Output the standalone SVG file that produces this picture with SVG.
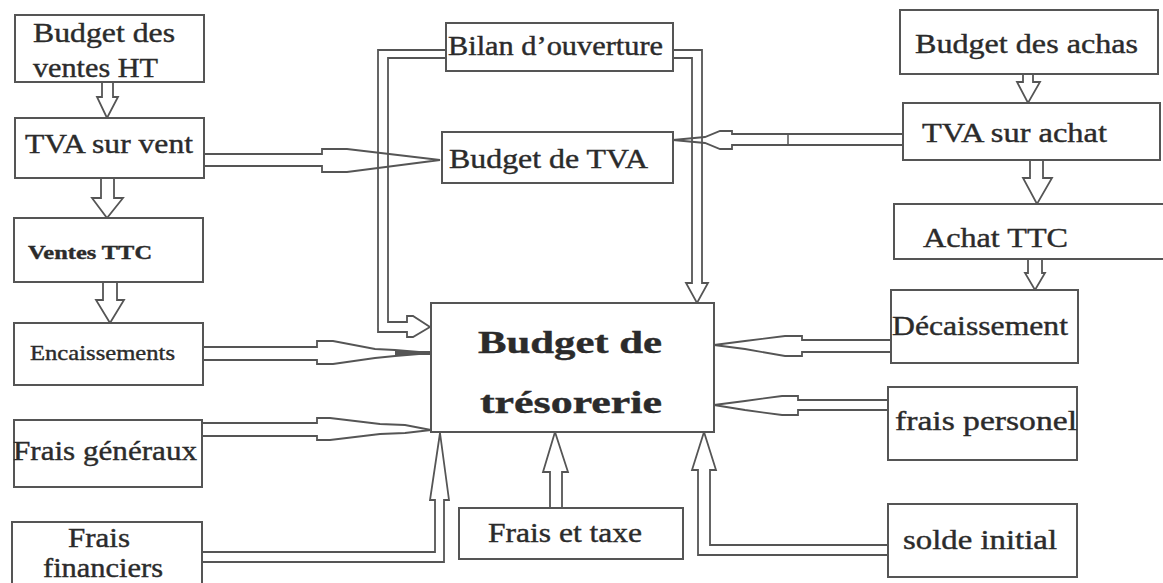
<svg xmlns="http://www.w3.org/2000/svg" width="1163" height="583" viewBox="0 0 1163 583">
<style>
.box{fill:#fff;stroke:#555;stroke-width:2}
text{font-family:'Liberation Serif',serif;font-size:27px;fill:#2b2b2b;stroke:#2b2b2b;stroke-width:0.4}
.b{font-weight:bold}
.c{fill:none;stroke:#555;stroke-width:1.8;stroke-linejoin:miter}
.a{fill:#fff;stroke:#555;stroke-width:1.8}
</style>
<rect width="1163" height="583" fill="#fff"/>
<g id="connectors">
  <polygon class="a" points="102,82 113,82 113,97 118,97 107,118 97,97 102,97"/>
  <polygon class="a" points="101,178 114,178 114,198 123,198 107,218 92,198 101,198"/>
  <polygon class="a" points="103,282 117,282 117,300 124,300 110,323 96,300 103,300"/>
  <polygon class="a" points="1023,74 1033,74 1033,82 1040,82 1028,103 1017,82 1023,82"/>
  <polygon class="a" points="1030,160 1043,160 1043,178 1052,178 1037,204 1023,178 1030,178"/>
  <polygon class="a" points="1028,259 1042,259 1042,273 1045,273 1035,290 1025,273 1028,273"/>
  <path class="c" d="M204,154 L322,154 L322,149 L347,149 L440,160 L347,172 L322,172 L322,166 L204,166"/>
  <path class="c" d="M903,134 L732,134 L732,131 L720,131 L705,137 L673,140 L705,143 L720,149 L732,149 L732,145 L903,145"/>
  <line x1="788" y1="134" x2="788" y2="145" stroke="#555" stroke-width="1.5"/>
  <path class="c" d="M203,347 L317,347 L317,341 L333,341 L375,349 L395,350 L431,353 L395,356 L375,358 L333,364 L317,364 L317,360 L203,360"/>
  <line x1="395" y1="353" x2="431" y2="353" stroke="#555" stroke-width="4"/>
  <path class="c" d="M202,423 L317,423 L317,418 L330,418 L380,424 L405,425 L431,430 L405,433 L380,434 L330,440 L317,440 L317,436 L202,436"/>
  <path class="c" d="M446,50 L378,50 L378,332 L407,332 L407,337 L413,337 L430,327 L413,316 L407,316 L407,322 L388,322 L388,58 L446,58"/>
  <path class="c" d="M673,50 L702,50 L702,283 L708,283 L697,303 L686,283 L692,283 L692,58 L673,58"/>
  <path class="c" d="M891,340 L802,340 L802,336 L785,336 L745,341 L714,345 L745,349 L785,356 L802,356 L802,352 L891,352"/>
  <path class="c" d="M888,400 L798,400 L798,396 L782,396 L745,401 L714,405 L745,410 L782,415 L798,415 L798,410 L888,410"/>
  <path class="c" d="M202,552 L435,552 L435,500 L430,500 L440,433 L449,500 L444,500 L444,562 L202,562"/>
  <polygon class="a" points="550,508 550,472 543,472 555,432 568,472 562,472 562,508"/>
  <path class="c" d="M888,545 L710,545 L710,470 L716,470 L704,432 L692,470 L698,470 L698,555 L888,555"/>
</g>
<g id="n-budget-ventes-ht"><rect class="box" x="15" y="15" width="189" height="67"/><text x="33" y="42" textLength="142" lengthAdjust="spacingAndGlyphs">Budget des</text><text x="33" y="77" textLength="125" lengthAdjust="spacingAndGlyphs">ventes HT</text></g>
<g id="n-tva-vent"><rect class="box" x="15" y="118" width="189" height="60"/><text x="25" y="153" textLength="168" lengthAdjust="spacingAndGlyphs">TVA sur vent</text></g>
<g id="n-ventes-ttc"><rect class="box" x="14" y="218" width="189" height="64"/><text class="b" style="font-size:19px" x="28" y="259" textLength="124" lengthAdjust="spacingAndGlyphs">Ventes TTC</text></g>
<g id="n-encaissements"><rect class="box" x="14" y="323" width="189" height="62"/><text style="font-size:22px" x="30" y="360" textLength="145" lengthAdjust="spacingAndGlyphs">Encaissements</text></g>
<g id="n-frais-generaux"><rect class="box" x="14" y="420" width="188" height="67"/><text x="13" y="460" textLength="184" lengthAdjust="spacingAndGlyphs">Frais généraux</text></g>
<g id="n-frais-financiers"><rect class="box" x="12" y="522" width="190" height="70"/><text x="68" y="547" textLength="62" lengthAdjust="spacingAndGlyphs">Frais</text><text x="43" y="577" textLength="120" lengthAdjust="spacingAndGlyphs">financiers</text></g>
<g id="n-bilan"><rect class="box" x="446" y="23" width="227" height="48"/><text x="448" y="55" textLength="215" lengthAdjust="spacingAndGlyphs">Bilan d’ouverture</text></g>
<g id="n-budget-tva"><rect class="box" x="442" y="132" width="231" height="51"/><text x="449" y="168" textLength="199" lengthAdjust="spacingAndGlyphs">Budget de TVA</text></g>
<g id="n-budget-achas"><rect class="box" x="900" y="10" width="258" height="64"/><text x="915" y="53" textLength="223" lengthAdjust="spacingAndGlyphs">Budget des achas</text></g>
<g id="n-tva-achat"><rect class="box" x="903" y="103" width="257" height="57"/><text x="922" y="142" textLength="185" lengthAdjust="spacingAndGlyphs">TVA sur achat</text></g>
<g id="n-achat-ttc"><rect class="box" x="894" y="204" width="270" height="55"/><text x="923" y="247" textLength="145" lengthAdjust="spacingAndGlyphs">Achat TTC</text></g>
<g id="n-decaissement"><rect class="box" x="891" y="290" width="187" height="73"/><text x="892" y="335" textLength="176" lengthAdjust="spacingAndGlyphs">Décaissement</text></g>
<g id="n-frais-personel"><rect class="box" x="888" y="387" width="189" height="73"/><text x="895" y="430" textLength="182" lengthAdjust="spacingAndGlyphs">frais personel</text></g>
<g id="n-solde-initial"><rect class="box" x="888" y="504" width="189" height="73"/><text x="903" y="549" textLength="154" lengthAdjust="spacingAndGlyphs">solde initial</text></g>
<g id="n-budget-tresorerie"><rect class="box" x="431" y="303" width="283" height="129"/><text class="b" style="font-size:32px" x="478" y="353" textLength="184" lengthAdjust="spacingAndGlyphs">Budget de</text><text class="b" style="font-size:32px" x="480" y="413" textLength="182" lengthAdjust="spacingAndGlyphs">trésorerie</text></g>
<g id="n-frais-taxe"><rect class="box" x="459" y="508" width="224" height="51"/><text x="488" y="542" textLength="154" lengthAdjust="spacingAndGlyphs">Frais et taxe</text></g>
</svg>
